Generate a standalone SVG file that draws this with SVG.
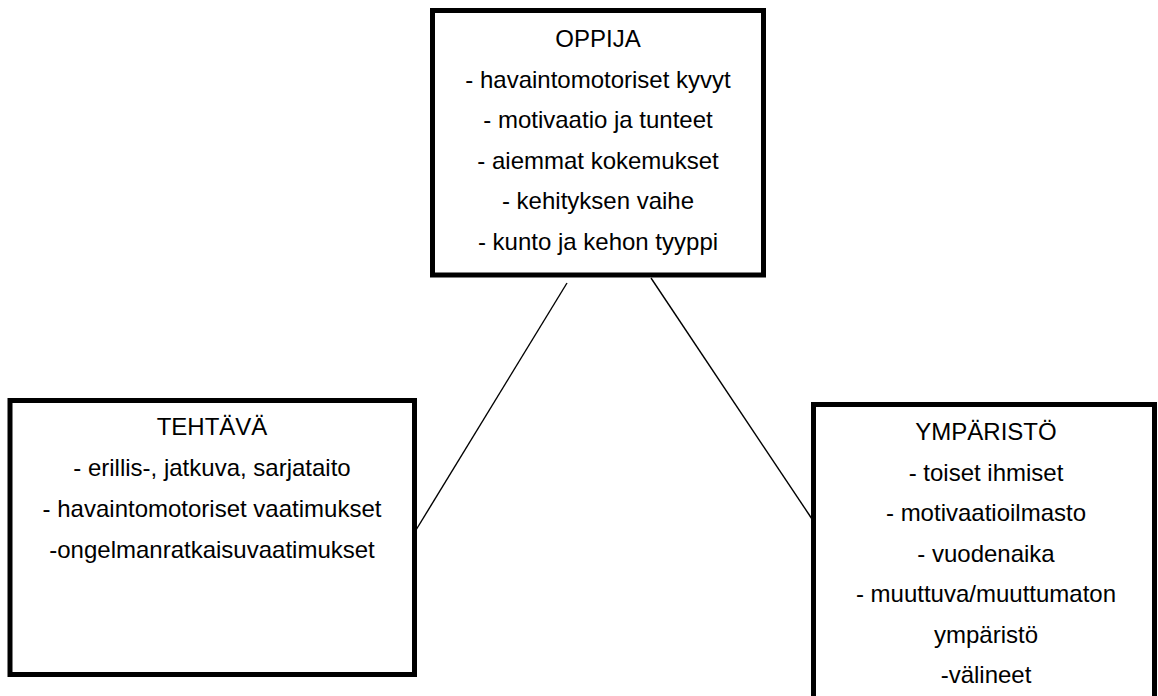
<svg xmlns="http://www.w3.org/2000/svg" width="1158" height="696" viewBox="0 0 1158 696">
<style>
.box{fill:#fff;stroke:#000;stroke-width:5}
.t{font-family:"Liberation Sans",Arial,sans-serif;font-size:24px;fill:#000;text-anchor:middle}
.c{stroke:#000;stroke-width:1.4;fill:none}
</style>
<rect width="1158" height="696" fill="#fff"/>
<g id="connectors">
<line class="c" x1="567" y1="283" x2="416" y2="530"/>
<line class="c" x1="651" y1="278" x2="812" y2="519"/>
</g>
<g id="oppija">
<rect class="box" x="432.5" y="10.5" width="331" height="264.5"/>
<text class="t" x="598" y="47">OPPIJA</text>
<text class="t" x="598" y="87.5">- havaintomotoriset kyvyt</text>
<text class="t" x="598" y="128">- motivaatio ja tunteet</text>
<text class="t" x="598" y="168.5">- aiemmat kokemukset</text>
<text class="t" x="598" y="209">- kehityksen vaihe</text>
<text class="t" x="598" y="249.5">- kunto ja kehon tyyppi</text>
</g>
<g id="tehtava">
<rect class="box" x="10" y="400.5" width="404.5" height="274"/>
<text class="t" x="212" y="435">TEHTÄVÄ</text>
<text class="t" x="212" y="476">- erillis-, jatkuva, sarjataito</text>
<text class="t" x="212" y="517">- havaintomotoriset vaatimukset</text>
<text class="t" x="212" y="558">-ongelmanratkaisuvaatimukset</text>
</g>
<g id="ymparisto">
<rect class="box" x="813.5" y="404.5" width="341" height="320"/>
<text class="t" x="986" y="440">YMPÄRISTÖ</text>
<text class="t" x="986" y="480.5">- toiset ihmiset</text>
<text class="t" x="986" y="521">- motivaatioilmasto</text>
<text class="t" x="986" y="561.5">- vuodenaika</text>
<text class="t" x="986" y="602">- muuttuva/muuttumaton</text>
<text class="t" x="986" y="642.5">ympäristö</text>
<text class="t" x="986" y="683">-välineet</text>
</g>
</svg>
